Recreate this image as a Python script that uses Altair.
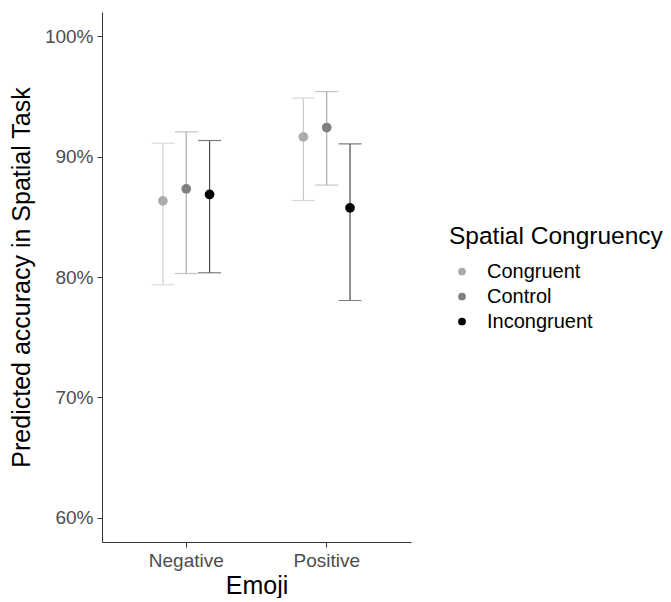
import altair as alt
import pandas as pd

emoji = ["Negative", "Negative", "Negative", "Positive", "Positive", "Positive"]
congruency = ["Congruent", "Control", "Incongruent", "Congruent", "Control", "Incongruent"]
estimate = [0.8632, 0.8732, 0.8685, 0.9163, 0.9241, 0.8574]
lower = [0.7935, 0.8029, 0.8035, 0.8635, 0.8763, 0.7805]
upper = [0.9111, 0.9205, 0.9133, 0.9485, 0.9539, 0.9105]

levels = ["Congruent", "Control", "Incongruent"]
point_colors = ["#ababab", "#7f7f7f", "#000000"]
bar_colors = ["#cbcbcb", "#acacac", "#474747"]

df = pd.DataFrame({"Emoji": emoji, "Congruency": congruency,
                   "est": estimate, "lo": lower, "hi": upper})

FONT = "Liberation Sans"

xenc = alt.X("Emoji:N", title="Emoji",
             scale=alt.Scale(paddingInner=0, paddingOuter=0.1),
             axis=alt.Axis(labelAngle=0, labelFontSize=19, labelColor="#4d4d4d",
                           labelFont=FONT, titleFont=FONT, titleFontSize=25,
                           titleFontWeight="normal", titleColor="#000000",
                           tickSize=5, tickColor="#333333", domainColor="#333333",
                           labelPadding=4, titlePadding=3, grid=False))
xoff = alt.XOffset("Congruency:N", sort=levels,
                   scale=alt.Scale(domain=levels, range=[35.2, 105.2],
                                   paddingInner=0, paddingOuter=0))
yscale = alt.Scale(domain=[0.58, 1.02], nice=False, zero=False)
yaxis = alt.Axis(format=".0%", values=[0.6, 0.7, 0.8, 0.9, 1.0], labelFontSize=19,
                 labelColor="#4d4d4d", labelFont=FONT, titleFont=FONT, titleFontSize=25,
                 titleFontWeight="normal", titleColor="#000000", tickSize=5,
                 tickColor="#333333", domainColor="#333333", labelPadding=4,
                 titlePadding=10, grid=False)

barcolor = alt.Color("Congruency:N", scale=alt.Scale(domain=levels, range=bar_colors),
                     legend=None)

rules = alt.Chart(df).mark_rule(strokeWidth=1.2).encode(
    x=xenc, xOffset=xoff,
    y=alt.Y("lo:Q", scale=yscale, axis=yaxis, title="Predicted accuracy in Spatial Task"),
    y2="hi:Q",
    color=barcolor,
)
caps_lo = alt.Chart(df).mark_tick(size=23, thickness=1.2).encode(
    x=xenc, xOffset=xoff, y=alt.Y("lo:Q", scale=yscale), color=barcolor)
caps_hi = alt.Chart(df).mark_tick(size=23, thickness=1.2).encode(
    x=xenc, xOffset=xoff, y=alt.Y("hi:Q", scale=yscale), color=barcolor)

points = alt.Chart(df).mark_circle(size=95, opacity=1).encode(
    x=xenc, xOffset=xoff, y=alt.Y("est:Q", scale=yscale),
    color=alt.Color("Congruency:N", sort=levels,
                    scale=alt.Scale(domain=levels, range=point_colors),
                    legend=alt.Legend(title="Spatial Congruency", orient="none",
                                      legendX=347, legendY=213,
                                      titleFontSize=24.5, titleFont=FONT, titleLimit=400,
                                      titleFontWeight="normal", titleColor="#000000",
                                      labelFontSize=20, labelFont=FONT, labelColor="#000000",
                                      symbolType="circle", symbolSize=60,
                                      symbolOffset=3, labelOffset=15,
                                      rowPadding=5, titlePadding=12)),
)

bars = alt.layer(rules, caps_lo, caps_hi).resolve_scale(color="shared")
chart = alt.layer(bars, points).resolve_scale(color="independent").properties(
    width=309, height=530,
    autosize=alt.AutoSizeParams(type="none"),
    padding={"left": 94, "top": 4, "right": 252, "bottom": 56},
).configure(font=FONT).configure_view(strokeWidth=0, stroke=None)

chart.save("out.html", embed_options={"renderer": "svg", "actions": False})
